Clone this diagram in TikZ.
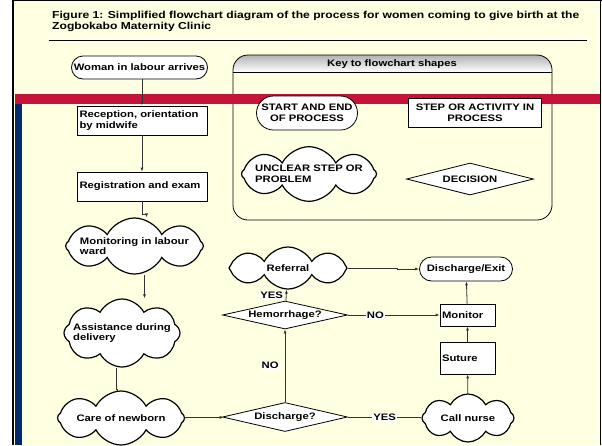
\documentclass[tikz,border=0pt]{standalone}
\usepackage{fontspec}
\setmainfont{Liberation Sans}[FakeStretch=1.2]
\usetikzlibrary{shapes.geometric,shapes.symbols,shapes.misc,arrows.meta}
\definecolor{paper}{RGB}{255,255,225}
\definecolor{bandred}{RGB}{196,20,58}
\definecolor{bandblue}{RGB}{0,42,110}

\begin{document}
\begin{tikzpicture}[x=1pt,y=1pt,font=\bfseries\fontsize{9.4}{10.6}\selectfont]
\tikzstyle{every node}+=[inner sep=1.5pt]
\tikzstyle{startend}=[draw,fill=white,rounded rectangle,minimum height=23,line width=0.8pt]
\tikzstyle{activity}=[draw,fill=white,rectangle,align=left,line width=0.8pt]
\tikzstyle{unclear}=[draw,fill=white,cloud,cloud puffs=8,cloud puff arc=125,cloud ignores aspect,align=left,inner sep=0pt,line width=1.2pt]
\tikzstyle{decision}=[draw,fill=white,diamond,aspect=4.3,inner sep=0pt,line width=0.8pt]
\tikzstyle{link}=[draw=black!80,line width=0.8pt,-{Latex[length=4pt,width=3pt]}]
\tikzstyle{plain}=[draw=black!80,line width=0.8pt]
\tikzstyle{answer}=[fill=white,inner sep=1pt]
\useasboundingbox (0,0) rectangle (602,-445);
\fill [white] (0,0) rectangle (602,-445);
\fill [paper] (14,0) rectangle (602,-445);
\draw [line width=2.5pt] (13,0) -- (13,-445);
\draw [line width=1.2pt] (13,-0.6) -- (602,-0.6);
\draw [line width=1pt] (600.5,0) -- (600.5,-445);
\node [anchor=north west,align=left,inner sep=0pt,font=\bfseries\fontsize{10.1}{11}\selectfont] (title) at (52,-11) {Figure 1: Simplified flowchart diagram of the process for women coming to give birth at the\\Zogbokabo Maternity Clinic};
\draw [line width=0.8pt] (49,-40) -- (587,-40);
\begin{scope}
\clip [rounded corners=15] (233,-55) rectangle (552,-220);
\shade [top color=black!30,bottom color=white] (233,-55) rectangle (552,-72);
\end{scope}
\draw [line width=0.8pt] (233,-72) -- (552,-72);
\draw [line width=0.8pt,rounded corners=15] (233,-55) rectangle (552,-220);
\node (keytitle) at (392,-64) {Key to flowchart shapes};
\fill [bandred] (14.5,-94) rectangle (600,-104);
\fill [bandblue] (14.5,-104) rectangle (22,-445);
\node [startend,align=center,minimum width=104,minimum height=34] (keystart) at (307,-113) {START AND END\\OF PROCESS};
\node [activity,align=center,minimum width=133,minimum height=29] (keystep) at (475,-113) {STEP OR ACTIVITY IN\\PROCESS};
\node [unclear,inner xsep=-5pt,minimum width=135,minimum height=50] (keycloud) at (309,-174) {UNCLEAR STEP OR\\PROBLEM};
\node [decision,aspect=4,minimum width=127,minimum height=32] (keydecision) at (470,-179) {DECISION};
\node [startend,minimum width=139] (woman) at (139.5,-67.5) {Woman in labour arrives};
\node [activity,minimum width=130,minimum height=29,text width=125] (reception) at (142,-120.5) {Reception, orientation\\by midwife};
\node [activity,minimum width=130,minimum height=29,text width=125] (registration) at (142,-186.5) {Registration and exam};
\node [unclear,inner xsep=-4pt,minimum width=135,minimum height=52] (monitoring) at (134.5,-246) {Monitoring in labour\\ward};
\node [unclear,inner xsep=-9pt,minimum width=116,minimum height=68] (assistance) at (122,-333) {Assistance during\\delivery};
\node [unclear,inner xsep=-9pt,minimum width=127,minimum height=54] (care) at (121,-418) {Care of newborn};
\node [decision,minimum width=125,minimum height=29] (discharge) at (285,-417) {Discharge?};
\node [decision,minimum width=125,minimum height=28] (hemorrhage) at (285,-315) {Hemorrhage?};
\node [unclear,minimum width=118,minimum height=42] (referral) at (288,-268) {Referral};
\node [startend,minimum width=96,minimum height=24] (exit) at (466,-269) {Discharge/Exit};
\node [activity,minimum width=55,minimum height=22,text width=51] (monitor) at (467.5,-315) {Monitor};
\node [activity,minimum width=55,minimum height=32,text width=51] (suture) at (467.5,-358) {Suture};
\node [unclear,minimum width=92,minimum height=48] (call) at (468,-418) {Call nurse};
\draw [link] (woman.south -| reception.north) -- (reception.north);
\draw [link] (reception) -- (registration);
\draw [link] (registration.south) -- ++(0,-13) -| ([xshift=12]monitoring.north);
\draw [link] ([xshift=10]monitoring.south) -- ([xshift=10]monitoring.south |- assistance.north);
\draw [plain] ([xshift=-6]assistance.south) -- ++(0,-22) -| ([xshift=-4]care.north);
\draw [link] (care) -- (discharge);
\draw [plain] (discharge.east) -- (discharge.east -| call.west) node [answer,midway] {YES};
\draw [link] (discharge) -- (hemorrhage) node [answer,midway,left=5pt] {NO};
\draw [link] (hemorrhage) -- (monitor) node [answer,pos=0.3] {NO};
\draw [link] (hemorrhage) -- (referral) node [answer,midway,left=2pt] {YES};
\draw [link] (referral.east) -- ++(50,0) |- (exit.west);
\draw [link] (call) -- (suture);
\draw [link] (suture) -- (monitor);
\draw [link] (monitor) -- (exit);
\end{tikzpicture}
\end{document}
